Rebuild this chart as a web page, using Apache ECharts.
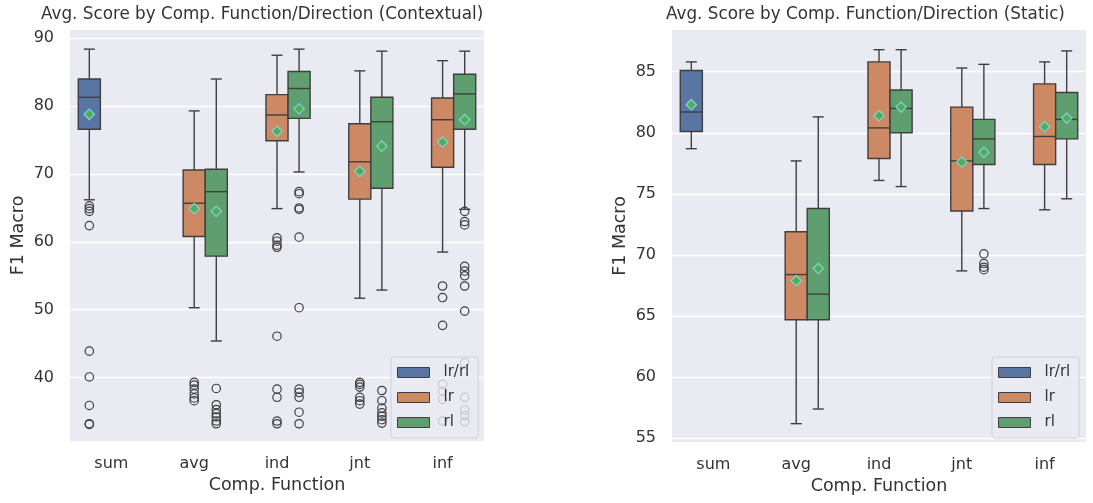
<!DOCTYPE html>
<html><head><meta charset="utf-8">
<script src="https://cdn.jsdelivr.net/npm/echarts@6/dist/echarts.min.js"></script>
<style>html,body{margin:0;padding:0;background:#fff}#chart{width:1093px;height:503px}</style>
</head><body><div id="chart"></div>
<script>
// ---------- data ----------
const categories = ['sum', 'avg', 'ind', 'jnt', 'inf'];
const hues = ['lr/rl', 'lr', 'rl'];
const hueColors = ['#5875A4', '#CC8963', '#5F9E6E'];

// y-axis limits and tick labels
const ctxRange = [30.66, 91.22];
const ctxTicks = [40, 50, 60, 70, 80, 90];
const stRange = [54.70, 88.41];
const stTicks = [55, 60, 65, 70, 75, 80, 85];

// Contextual panel: [category, lowWhisker, Q1, median, Q3, highWhisker]
const ctxBoxLrRl = [['sum', 66.2, 76.6, 81.3, 84.0, 88.4]];
const ctxBoxLr = [
  ['avg', 50.3, 60.8, 65.7, 70.6, 79.3],
  ['ind', 64.9, 74.9, 78.7, 81.7, 87.5],
  ['jnt', 51.7, 66.3, 71.8, 77.4, 85.2],
  ['inf', 58.5, 71.0, 78.0, 81.2, 86.7]
];
const ctxBoxRl = [
  ['avg', 45.4, 57.9, 67.4, 70.7, 84.0],
  ['ind', 70.3, 78.2, 82.6, 85.1, 88.4],
  ['jnt', 52.9, 67.9, 77.7, 81.3, 88.1],
  ['inf', 64.8, 76.6, 81.8, 84.7, 88.1]
];
const ctxMeanLrRl = [['sum', 78.8]];
const ctxMeanLr = [['avg', 64.9], ['ind', 76.3], ['jnt', 70.4], ['inf', 74.7]];
const ctxMeanRl = [['avg', 64.5], ['ind', 79.6], ['jnt', 74.1], ['inf', 78.0]];
const ctxOutLrRl = [['sum', [65.3, 64.9, 64.5, 62.4, 43.9, 40.1, 35.9, 33.2, 33.1]]];
const ctxOutLr = [
  ['avg', [39.3, 38.9, 38.3, 37.6, 37.0, 36.6]],
  ['ind', [60.6, 60.1, 59.5, 59.2, 46.1, 38.3, 37.1, 33.6, 33.2]],
  ['jnt', [39.3, 39.0, 38.6, 37.1, 36.6, 36.1]],
  ['inf', [53.5, 51.8, 47.7, 39.0, 38.0, 36.8, 33.6]]
];
const ctxOutRl = [
  ['avg', [38.4, 36.0, 35.3, 34.7, 34.2, 33.6, 33.2]],
  ['ind', [67.4, 67.1, 65.0, 64.8, 60.7, 50.3, 38.3, 37.8, 37.1, 34.9, 33.2]],
  ['jnt', [38.1, 36.6, 35.5, 34.8, 34.3, 33.8, 33.3]],
  ['inf', [64.5, 63.0, 62.5, 56.4, 55.7, 55.0, 53.5, 49.8, 42.2, 37.1, 35.2, 34.4, 33.5]]
];

// Static panel
const stBoxLrRl = [['sum', 78.7, 80.1, 81.7, 85.1, 85.8]];
const stBoxLr = [
  ['avg', 56.2, 64.7, 68.4, 71.9, 77.7],
  ['ind', 76.1, 77.9, 80.4, 85.8, 86.8],
  ['jnt', 68.7, 73.6, 77.7, 82.1, 85.3],
  ['inf', 73.7, 77.4, 79.7, 84.0, 85.8]
];
const stBoxRl = [
  ['avg', 57.4, 64.7, 66.8, 73.8, 81.3],
  ['ind', 75.6, 80.0, 82.0, 83.5, 86.8],
  ['jnt', 73.8, 77.4, 79.5, 81.1, 85.6],
  ['inf', 74.6, 79.5, 81.1, 83.3, 86.7]
];
const stMeanLrRl = [['sum', 82.3]];
const stMeanLr = [['avg', 67.9], ['ind', 81.4], ['jnt', 77.6], ['inf', 80.5]];
const stMeanRl = [['avg', 68.9], ['ind', 82.1], ['jnt', 78.4], ['inf', 81.2]];
const stOutLrRl = [];
const stOutLr = [];
const stOutRl = [['jnt', [70.1, 69.3, 69.0, 68.8]]];

// ---------- drawing ----------
const FONT = 'DejaVu Sans';
const EDGE = '#3f3f3f';
const TXT = '#333333';

function hueGeom(api, hueIdx, c) {
  const band = api.size([1, 0])[0];
  const w = band * 0.8 / 3;
  return { w: w, off: (hueIdx - 1) * w };
}
function boxRender(hueIdx) {
  return function (params, api) {
    const c = api.value(0);
    const g = hueGeom(api, hueIdx, c);
    const x = api.coord([c, api.value(3)])[0] + g.off;
    const y = i => api.coord([c, api.value(i)])[1];
    const yLo = y(1), yQ1 = y(2), yMed = y(3), yQ3 = y(4), yHi = y(5);
    const hw = g.w / 2, cw = g.w / 4;
    const ls = { stroke: EDGE, lineWidth: 1.4 };
    return {
      type: 'group', children: [
        { type: 'line', shape: { x1: x, y1: yQ1, x2: x, y2: yLo }, style: ls },
        { type: 'line', shape: { x1: x, y1: yQ3, x2: x, y2: yHi }, style: ls },
        { type: 'line', shape: { x1: x - cw, y1: yLo, x2: x + cw, y2: yLo }, style: ls },
        { type: 'line', shape: { x1: x - cw, y1: yHi, x2: x + cw, y2: yHi }, style: ls },
        { type: 'rect', shape: { x: x - hw, y: yQ3, width: g.w, height: yQ1 - yQ3 },
          style: { fill: hueColors[hueIdx], stroke: EDGE, lineWidth: 1.4 } },
        { type: 'line', shape: { x1: x - hw, y1: yMed, x2: x + hw, y2: yMed }, style: ls }
      ]
    };
  };
}
function outRender(hueIdx) {
  return function (params, api) {
    const c = api.value(0);
    const g = hueGeom(api, hueIdx, c);
    const p = api.coord([c, api.value(1)]);
    return { type: 'circle', shape: { cx: p[0] + g.off, cy: p[1], r: 4.2 },
      style: { fill: 'none', stroke: EDGE, lineWidth: 1.2 } };
  };
}
function meanRender(hueIdx) {
  return function (params, api) {
    const c = api.value(0);
    const g = hueGeom(api, hueIdx, c);
    const p = api.coord([c, api.value(1)]);
    const x = p[0] + g.off, yy = p[1], s = 5.2;
    return { type: 'polygon', shape: { points: [[x, yy - s], [x + s, yy], [x, yy + s], [x - s, yy]] },
      style: { fill: '#4FAE55', stroke: '#7FD0D0', lineWidth: 1.3 } };
  };
}
const ci = name => categories.indexOf(name);
const boxData = arr => arr.map(r => [ci(r[0]), r[1], r[2], r[3], r[4], r[5]]);
const meanData = arr => arr.map(r => [ci(r[0]), r[1]]);
const outData = arr => {
  const out = [];
  arr.forEach(r => r[1].forEach(v => out.push([ci(r[0]), v])));
  return out;
};

const panels = [
  { boxes: [ctxBoxLrRl, ctxBoxLr, ctxBoxRl], means: [ctxMeanLrRl, ctxMeanLr, ctxMeanRl], outs: [ctxOutLrRl, ctxOutLr, ctxOutRl] },
  { boxes: [stBoxLrRl, stBoxLr, stBoxRl], means: [stMeanLrRl, stMeanLr, stMeanRl], outs: [stOutLrRl, stOutLr, stOutRl] }
];
const series = [];
panels.forEach((pn, p) => {
  hues.forEach((h, k) => {
    series.push({ type: 'custom', name: h, xAxisIndex: p, yAxisIndex: p, z: 2,
      renderItem: boxRender(k), data: boxData(pn.boxes[k]), encode: { x: 0, y: [1, 2, 3, 4, 5] },
      itemStyle: { color: hueColors[k] }, silent: true });
  });
  hues.forEach((h, k) => {
    series.push({ type: 'custom', xAxisIndex: p, yAxisIndex: p, z: 3,
      renderItem: outRender(k), data: outData(pn.outs[k]), encode: { x: 0, y: 1 }, silent: true });
    series.push({ type: 'custom', xAxisIndex: p, yAxisIndex: p, z: 4,
      renderItem: meanRender(k), data: meanData(pn.means[k]), encode: { x: 0, y: 1 }, silent: true });
  });
});

function xAxis(idx) {
  return { type: 'category', gridIndex: idx, data: categories,
    axisLine: { show: false }, axisTick: { show: false }, splitLine: { show: false },
    axisLabel: { fontSize: 16, color: TXT, fontFamily: FONT, margin: 15 },
    name: 'Comp. Function', nameLocation: 'middle', nameGap: 35,
    nameTextStyle: { fontSize: 17.5, color: TXT, fontFamily: FONT } };
}
function yAxis(idx, range, ticks) {
  return { type: 'value', gridIndex: idx, min: range[0], max: range[1],
    axisLine: { show: false }, axisTick: { show: false, customValues: ticks },
    axisLabel: { customValues: ticks, fontSize: 16, color: TXT, fontFamily: FONT, margin: 16 },
    splitLine: { show: true, lineStyle: { color: '#ffffff', width: 1.3 } },
    name: 'F1 Macro', nameLocation: 'middle', nameGap: 43,
    nameTextStyle: { fontSize: 17.5, color: TXT, fontFamily: FONT } };
}
function legend(left) {
  return { left: left, top: 357, orient: 'vertical', itemWidth: 32, itemHeight: 10, itemGap: 10,
    padding: [8, 9, 8, 6], backgroundColor: 'rgba(234,234,242,0.8)', borderColor: '#d0d0d8',
    borderWidth: 1, borderRadius: 3, selectedMode: false,
    textStyle: { fontSize: 15, color: TXT, fontFamily: FONT, lineHeight: 14, padding: [0, 0, 0, 9] },
    data: hues.map((h, k) => ({ name: h, icon: 'rect',
      itemStyle: { color: hueColors[k], borderColor: EDGE, borderWidth: 1 } })) };
}

const chart = echarts.init(document.getElementById('chart'), null, { renderer: 'canvas' });
chart.setOption({
  animation: false,
  backgroundColor: '#ffffff',
  title: [
    { text: 'Avg. Score by Comp. Function/Direction (Contextual)', left: 41, top: 6, padding: 0,
      textStyle: { fontSize: 16.8, fontWeight: 'normal', color: TXT, fontFamily: FONT } },
    { text: 'Avg. Score by Comp. Function/Direction (Static)', left: 666, top: 6, padding: 0,
      textStyle: { fontSize: 16.8, fontWeight: 'normal', color: TXT, fontFamily: FONT } }
  ],
  grid: [
    { left: 70, top: 30, width: 414, height: 411, show: true, backgroundColor: '#EAEAF2', borderWidth: 0 },
    { left: 672, top: 30, width: 414, height: 412, show: true, backgroundColor: '#EAEAF2', borderWidth: 0 }
  ],
  xAxis: [xAxis(0), xAxis(1)],
  yAxis: [yAxis(0, ctxRange, ctxTicks), yAxis(1, stRange, stTicks)],
  legend: [legend(391), legend(992)],
  series: series
});
</script></body></html>
